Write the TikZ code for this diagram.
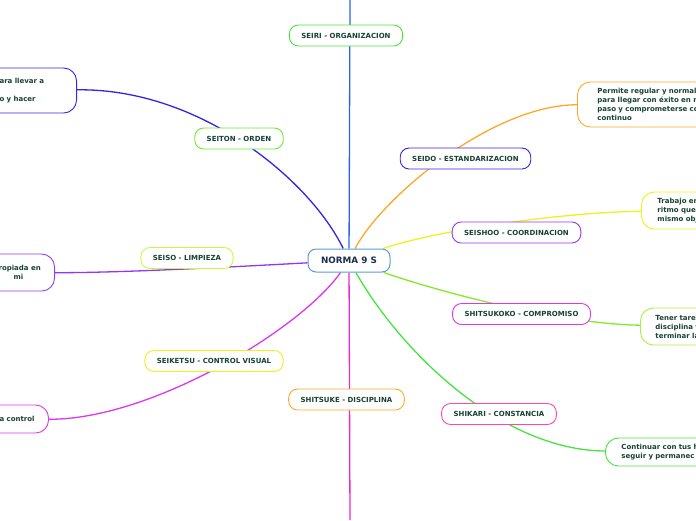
\documentclass[tikz,border=0pt]{standalone}
\usepackage{fontspec}
\setmainfont{DejaVu Sans}
\usepackage{xcolor}
\usepackage{tikz}
\usetikzlibrary{backgrounds}
\definecolor{txt}{RGB}{24,66,52}
\definecolor{navy}{RGB}{28,45,80}
\definecolor{cframe}{RGB}{90,155,215}
\definecolor{cblue}{RGB}{40,100,230}
\definecolor{cindigo}{RGB}{55,35,232}
\definecolor{corange}{RGB}{255,168,40}
\definecolor{cyellow}{RGB}{240,240,30}
\definecolor{clime}{RGB}{130,235,40}
\definecolor{cgreen}{RGB}{70,228,60}
\definecolor{cmagenta}{RGB}{235,40,205}
\definecolor{cviolet}{RGB}{220,55,238}
\definecolor{cpurple}{RGB}{145,55,245}
\definecolor{cpink}{RGB}{255,70,170}

\begin{document}
\begin{tikzpicture}[x=1pt,y=-1pt,
        branch/.style={draw,line width=0.9pt,fill=white,rounded corners=9pt,minimum height=21pt,
          inner xsep=12pt,text=txt,font=\bfseries\fontsize{7}{9}\selectfont},
        leaf/.style={draw,line width=0.9pt,fill=white,rounded corners=13pt,inner xsep=16pt,
          align=left,text=txt,font=\bfseries\fontsize{7}{9}\selectfont},
        link/.style={line width=1.3pt}]
      \useasboundingbox (0,0) rectangle (696,520);
      \node[draw=cframe,line width=1pt,fill=white,rounded corners=8pt,minimum width=82pt,
        minimum height=23pt,text=navy,font=\bfseries\fontsize{8.8}{10}\selectfont]
        (norma) at (349,260.5) {NORMA 9 S};
      % ramas
      \node[branch,draw=cgreen]            (seiri)      at (346,35.5)  {SEIRI - ORGANIZACION};
      \node[branch,draw={rgb,255:red,110;green,232;blue,50}] (seiton) at (239,138.5) {SEITON - ORDEN};
      \node[branch,draw=cindigo]           (seido)      at (465.5,158.5) {SEIDO - ESTANDARIZACION};
      \node[branch,draw=cpurple]           (seishoo)    at (516.5,232.5) {SEISHOO - COORDINACION};
      \node[branch,draw={rgb,255:red,200;green,250;blue,60}] (seiso) at (187,258) {SEISO - LIMPIEZA};
      \node[branch,draw=cviolet]           (shitsukoko) at (521.5,314) {SHITSUKOKO - COMPROMISO};
      \node[branch,draw=cyellow]           (seiketsu)   at (214,361) {SEIKETSU - CONTROL VISUAL};
      \node[branch,draw=corange]           (shitsuke)   at (346.5,399.5) {SHITSUKE - DISCIPLINA};
      \node[branch,draw=cpink]             (shikari)    at (499,414) {SHIKARI - CONSTANCIA};
      % hojas
      \node[leaf,draw=cindigo,anchor=east,minimum height=45pt,inner xsep=14pt,text width=63pt]
        (leafseiton) at (77,90.5) {ara llevar a\\[9pt]o y hacer};
      \node[leaf,draw={rgb,255:red,150;green,60;blue,255},anchor=east,minimum height=37pt,
        inner xsep=12pt,text width=44pt] (leafseiso) at (55,272.5) {ropiada en\\\hspace*{15pt}mi};
      \node[leaf,draw=cviolet,anchor=east,minimum height=28pt,inner xsep=13pt,text width=36pt]
        (leafseiketsu) at (49,419) {a control};
      \node[leaf,draw=corange,anchor=west,minimum height=45pt,inner xsep=20pt,text width=150pt]
        (leafseido) at (577,104.5)
        {Permite regular y normal\\para llegar con éxito en m\\paso y comprometerse co\\continuo};
      \node[leaf,draw=cyellow,anchor=west,minimum height=37pt,text width=150pt]
        (leafseishoo) at (641,210.5) {Trabajo en\\ritmo que\\mismo obj};
      \node[leaf,draw={rgb,255:red,170;green,240;blue,70},anchor=west,minimum height=37pt,
        inner xsep=15pt,text width=150pt] (leafshitsukoko) at (640,326.5)
        {Tener tare\\disciplina y\\terminar la};
      \node[leaf,draw=cgreen,anchor=west,minimum height=28pt,text width=150pt]
        (leafshikari) at (605,452) {Continuar con tus h\\seguir y permanec};
      \coordinate (seiritop) at (350,0);
      \coordinate (shitsukebot) at (350,520);
      % conectores
      \begin{scope}[on background layer]
        \draw[link,cblue] (norma) -- (seiritop);
        \draw[link,cindigo] (norma) .. controls (310,180) and (200,88) .. (leafseiton);
        \draw[link,corange] (norma) .. controls (380,200) and (490,105) .. (leafseido);
        \draw[link,cyellow] (norma) .. controls (430,232) and (560,212) .. (leafseishoo);
        \draw[link,clime] (norma) .. controls (440,292) and (560,324) .. (leafshitsukoko);
        \draw[link,cgreen] (norma) .. controls (400,350) and (500,450) .. (leafshikari);
        \draw[link,cmagenta] (norma) -- (shitsukebot);
        \draw[link,cviolet] (norma) .. controls (300,330) and (150,420) .. (leafseiketsu);
        \draw[link,cpurple] (norma) .. controls (250,266) and (120,273) .. (leafseiso);
      \end{scope}
    \end{tikzpicture}
\end{document}
